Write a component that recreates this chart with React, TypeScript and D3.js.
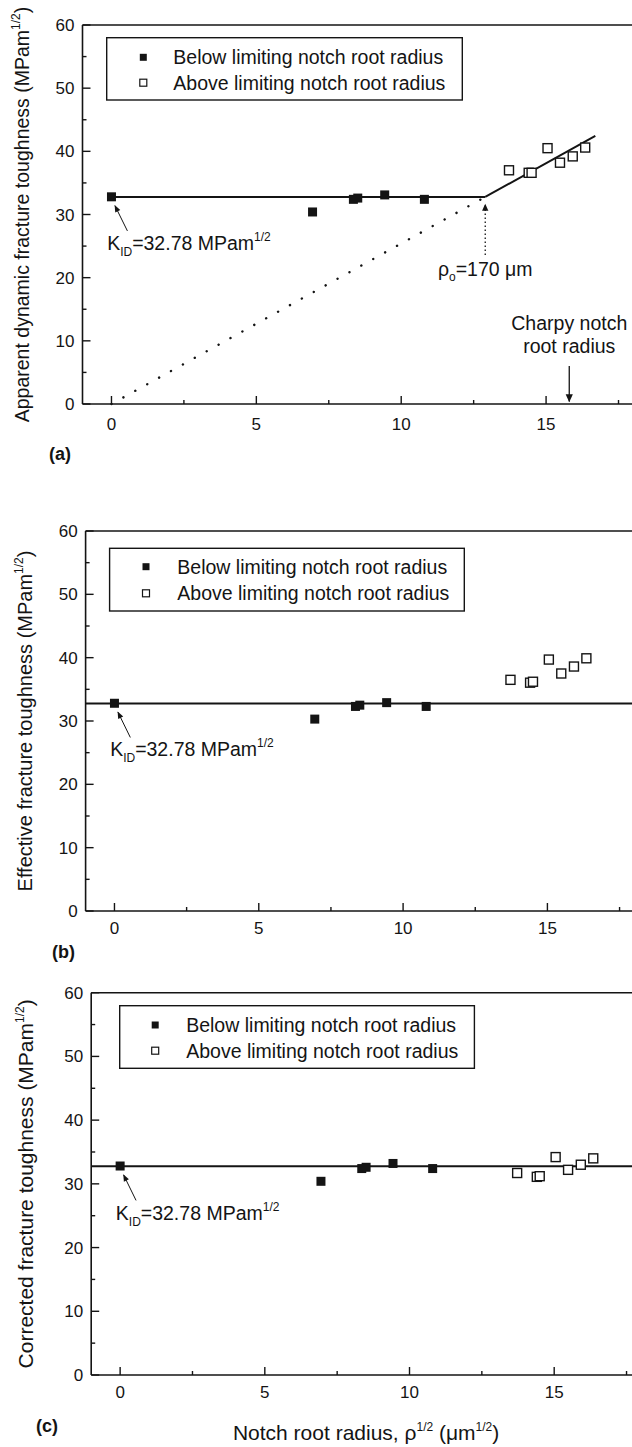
import React, { useEffect } from 'react';
import * as d3 from 'd3';

// ---------- data ----------
const xMajorTicks = [0, 5, 10, 15];
const xMinorTicks = [2.5, 7.5, 12.5, 17.5];
const yMajorTicks = [0, 10, 20, 30, 40, 50, 60];
const yMinorTicks = [5, 15, 25, 35, 45, 55];

const belowX = [0, 6.94, 8.35, 8.5, 9.43, 10.8];
const aboveX = [13.72, 14.4, 14.5, 15.05, 15.48, 15.92, 16.35];

const belowA = [32.8, 30.4, 32.4, 32.6, 33.1, 32.4];
const aboveA = [37.0, 36.6, 36.6, 40.5, 38.2, 39.2, 40.6];

const belowB = [32.8, 30.3, 32.3, 32.5, 32.9, 32.3];
const aboveB = [36.5, 36.05, 36.2, 39.7, 37.5, 38.6, 39.9];

const belowC = [32.8, 30.4, 32.4, 32.6, 33.2, 32.4];
const aboveC = [31.7, 31.1, 31.2, 34.2, 32.2, 33.0, 34.0];

const KID = 32.78;
const kneeX = 12.9; // sqrt(rho_o)
const slopeEndX = 16.7;
const charpyX = 15.8;

const legendLabels = ['Below limiting notch root radius', 'Above limiting notch root radius'];

const FONT = 'Liberation Sans, Arial, Helvetica, sans-serif';
const INK = '#141414';

// ---------- layout ----------
type PanelCfg = {
  key: string;
  x0: number; x1: number; yTop: number; yBot: number;
  below: number[]; above: number[];
  title: string; titleX: number; titleSize: number;
  legend: { x: number; y: number; w: number; h: number; mx: number; r1: number; r2: number; tx: number };
  tag: string; tagX: number; tagY: number;
  xLabelDy: number;
};

const panels: PanelCfg[] = [
  {
    key: 'a', x0: 82.5, x1: 633, yTop: 25, yBot: 404,
    below: belowA, above: aboveA,
    title: 'Apparent dynamic fracture toughness (MPam', titleX: 22, titleSize: 19.5,
    legend: { x: 106.7, y: 37.7, w: 355.6, h: 62.3, mx: 143.3, r1: 57.3, r2: 82.7, tx: 173.3 },
    tag: '(a)', tagX: 49, tagY: 460, xLabelDy: 26,
  },
  {
    key: 'b', x0: 85.6, x1: 634, yTop: 531, yBot: 911,
    below: belowB, above: aboveB,
    title: 'Effective fracture toughness (MPam', titleX: 24.5, titleSize: 20,
    legend: { x: 109.6, y: 548.3, w: 354.7, h: 62.7, mx: 146, r1: 566.7, r2: 593.3, tx: 177.3 },
    tag: '(b)', tagX: 52, tagY: 958, xLabelDy: 23,
  },
  {
    key: 'c', x0: 91.2, x1: 641, yTop: 992.7, yBot: 1375,
    below: belowC, above: aboveC,
    title: 'Corrected fracture toughness (MPam', titleX: 26, titleSize: 21,
    legend: { x: 119.7, y: 1005.7, w: 354.7, h: 62.6, mx: 155.2, r1: 1025, r2: 1050.7, tx: 186.2 },
    tag: '(c)', tagX: 36, tagY: 1432, xLabelDy: 23,
  },
];

function Panel({ p }: { p: PanelCfg }) {
  const x = d3.scaleLinear().domain([-1, 18]).range([p.x0, p.x1]);
  const y = d3.scaleLinear().domain([0, 60]).range([p.yBot, p.yTop]);
  const ms = 9;
  const lms = 7;
  const line = d3.line<[number, number]>().x(d => x(d[0])).y(d => y(d[1]));
  const slope = KID / kneeX;
  const yc = (p.yTop + p.yBot) / 2;

  return (
    <g>
      {/* axes frame */}
      <line x1={p.x0} x2={p.x1} y1={p.yTop} y2={p.yTop} stroke={INK} strokeWidth={1.5} />
      <line x1={p.x0} x2={p.x1} y1={p.yBot} y2={p.yBot} stroke={INK} strokeWidth={1.6} />
      <line x1={p.x0} x2={p.x0} y1={p.yTop} y2={p.yBot} stroke={INK} strokeWidth={1.6} />
      {/* x ticks */}
      {xMajorTicks.map(t => (
        <g key={'xt' + t}>
          <line x1={x(t)} x2={x(t)} y1={p.yBot} y2={p.yBot - 8} stroke={INK} strokeWidth={1.4} />
          <text x={x(t)} y={p.yBot + p.xLabelDy} textAnchor="middle" fontSize={17} fontFamily={FONT} fill={INK}>{t}</text>
        </g>
      ))}
      {xMinorTicks.map(t => (
        <line key={'xm' + t} x1={x(t)} x2={x(t)} y1={p.yBot} y2={p.yBot - 4} stroke={INK} strokeWidth={1.4} />
      ))}
      {/* y ticks */}
      {yMajorTicks.map(t => (
        <g key={'yt' + t}>
          <line x1={p.x0} x2={p.x0 + 8} y1={y(t)} y2={y(t)} stroke={INK} strokeWidth={1.4} />
          <text x={p.x0 - 8} y={y(t) + 6} textAnchor="end" fontSize={17} fontFamily={FONT} fill={INK}>{t}</text>
        </g>
      ))}
      {yMinorTicks.map(t => (
        <line key={'ym' + t} x1={p.x0} x2={p.x0 + 4} y1={y(t)} y2={y(t)} stroke={INK} strokeWidth={1.4} />
      ))}

      {/* y title */}
      <text transform={`translate(${p.titleX + 7},${yc}) rotate(-90)`} textAnchor="middle" fontSize={p.titleSize} fontFamily={FONT} fill={INK}>
        {p.title}
        <tspan dy={-9} fontSize={12}>1/2</tspan>
        <tspan dy={9}>)</tspan>
      </text>

      {/* fitted lines */}
      {p.key === 'a' ? (
        <g>
          <path d={line([[0, KID], [kneeX, KID]]) || ''} stroke={INK} strokeWidth={2} fill="none" />
          <path d={line([[kneeX, KID], [slopeEndX, slope * slopeEndX]]) || ''} stroke={INK} strokeWidth={2} fill="none" />
          <path d={line([[0, 0], [kneeX, KID]]) || ''} stroke={INK} strokeWidth={2.4} fill="none" strokeDasharray="0.1 13.5" strokeLinecap="round" />
        </g>
      ) : (
        <path d={line([[-1, KID], [18, KID]]) || ''} stroke={INK} strokeWidth={2} fill="none" />
      )}

      {/* markers */}
      {p.below.map((v, i) => (
        <rect key={'b' + i} x={x(belowX[i]) - ms / 2} y={y(v) - ms / 2} width={ms} height={ms} fill={INK} />
      ))}
      {p.above.map((v, i) => (
        <rect key={'o' + i} x={x(aboveX[i]) - ms / 2} y={y(v) - ms / 2} width={ms} height={ms} fill="white" stroke={INK} strokeWidth={1.4} />
      ))}

      {/* K_ID annotation */}
      <line x1={x(0.55)} y1={y(27.4)} x2={x(0.12)} y2={y(31.4)} stroke={INK} strokeWidth={1} markerEnd="url(#arrSmall)" />
      <text x={x(-0.15)} y={y(24.4)} fontSize={19.5} fontFamily={FONT} fill={INK}>
        K<tspan dy={6} fontSize={12}>ID</tspan>
        <tspan dy={-6}>=32.78 MPam</tspan>
        <tspan dy={-9} fontSize={12}>1/2</tspan>
      </text>

      {p.key === 'a' && (
        <g>
          <line x1={x(kneeX)} x2={x(kneeX)} y1={y(23.6)} y2={y(31.6)} stroke={INK} strokeWidth={1.3} strokeDasharray="1.5 2.5" markerEnd="url(#arrUp)" />
          <text x={x(kneeX)} y={y(20.25)} textAnchor="middle" fontSize={19.5} fontFamily={FONT} fill={INK}>
            ρ<tspan dy={5} fontSize={12}>o</tspan>
            <tspan dy={-5}>=170 μm</tspan>
          </text>
          <text x={x(charpyX)} y={y(11.7)} textAnchor="middle" fontSize={19.5} fontFamily={FONT} fill={INK}>Charpy notch</text>
          <text x={x(charpyX)} y={y(8.0)} textAnchor="middle" fontSize={19.5} fontFamily={FONT} fill={INK}>root radius</text>
          <line x1={x(charpyX)} x2={x(charpyX)} y1={y(6.0)} y2={y(0.4)} stroke={INK} strokeWidth={1.3} markerEnd="url(#arrDown)" />
        </g>
      )}

      {/* legend */}
      <rect x={p.legend.x} y={p.legend.y} width={p.legend.w} height={p.legend.h} fill="white" stroke={INK} strokeWidth={1.4} />
      <rect x={p.legend.mx - lms / 2} y={p.legend.r1 - lms / 2} width={lms} height={lms} fill={INK} />
      <rect x={p.legend.mx - lms / 2} y={p.legend.r2 - lms / 2} width={lms} height={lms} fill="white" stroke={INK} strokeWidth={1.2} />
      <text x={p.legend.tx} y={p.legend.r1 + 7} fontSize={19.5} fontFamily={FONT} fill={INK}>{legendLabels[0]}</text>
      <text x={p.legend.tx} y={p.legend.r2 + 7} fontSize={19.5} fontFamily={FONT} fill={INK}>{legendLabels[1]}</text>

      {/* panel tag */}
      <text x={p.tagX} y={p.tagY} fontSize={18} fontWeight="bold" fontFamily={FONT} fill={INK}>{p.tag}</text>

      {p.key === 'c' && (
        <text x={(p.x0 + p.x1) / 2} y={1440} textAnchor="middle" fontSize={21} fontFamily={FONT} fill={INK}>
          Notch root radius, ρ<tspan dy={-9} fontSize={12}>1/2</tspan>
          <tspan dy={9}> (μm</tspan>
          <tspan dy={-9} fontSize={12}>1/2</tspan>
          <tspan dy={9}>)</tspan>
        </text>
      )}
    </g>
  );
}

export default function App() {
  useEffect(() => {
    document.body.style.margin = '0';
  }, []);
  return (
    <svg width={632} height={1447} viewBox="0 0 632 1447" style={{ position: 'absolute', left: 0, top: 0, background: 'white' }}>
      <defs>
        <marker id="arrSmall" viewBox="0 0 10 10" refX="9" refY="5" markerWidth="9" markerHeight="7" orient="auto" markerUnits="userSpaceOnUse">
          <path d="M0,1 L10,5 L0,9 z" fill={INK} />
        </marker>
        <marker id="arrUp" viewBox="0 0 10 10" refX="9" refY="5" markerWidth="10" markerHeight="7" orient="auto" markerUnits="userSpaceOnUse">
          <path d="M0,0.5 L10,5 L0,9.5 z" fill={INK} />
        </marker>
        <marker id="arrDown" viewBox="0 0 10 10" refX="9" refY="5" markerWidth="11" markerHeight="8" orient="auto" markerUnits="userSpaceOnUse">
          <path d="M0,0.5 L10,5 L0,9.5 z" fill={INK} />
        </marker>
      </defs>
      <rect x={0} y={0} width={632} height={1447} fill="white" />
      {panels.map(p => <Panel key={p.key} p={p} />)}
    </svg>
  );
}
